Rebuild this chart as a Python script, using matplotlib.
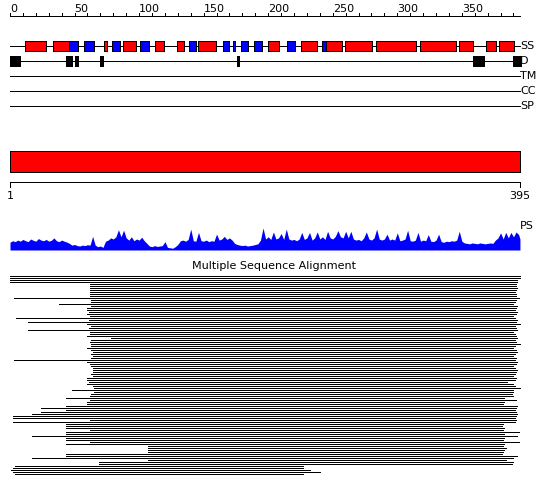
import matplotlib
matplotlib.use('Agg')
import matplotlib.pyplot as plt
from matplotlib.patches import Rectangle

# ---------------- data ----------------
SEQ_LEN = 395
ruler_major = [0, 50, 100, 150, 200, 250, 300, 350]
ruler_minor = list(range(0, 391, 10))

ss_helix = [(11.9, 28.1), (33.5, 45.9), (73.0, 74.9), (87.8, 97.8), (112.5, 119.1),
            (129.4, 135.0), (145.9, 159.8), (200.1, 208.6), (225.6, 238.0),
            (244.8, 256.9), (259.7, 280.2), (283.7, 314.5), (317.8, 345.5),
            (348.0, 358.9), (368.5, 376.2), (378.5, 390.4)]
ss_strand = [(45.9, 52.9), (57.6, 64.8), (79.2, 85.0), (100.9, 107.4), (138.9, 143.8),
             (165.2, 169.4), (172.7, 174.5), (178.9, 184.4), (189.0, 195.0),
             (214.6, 220.5), (241.9, 244.8)]
disorder = [(0, 7.7), (43.4, 48.0), (50.3, 52.4), (69.7, 71.8), (175.8, 177.4),
            (358.9, 367.2), (389.9, 396.0)]
track_labels = ['SS', 'D', 'TM', 'CC', 'SP']
domain = (1, 395)

ps_pos = list(range(0, 395, 2)) + [395]
ps_vals = [0.35, 0.42, 0.38, 0.45, 0.40, 0.48, 0.42, 0.38, 0.50, 0.44, 0.40, 0.52,
           0.45, 0.42, 0.48, 0.40, 0.44, 0.55, 0.42, 0.38, 0.45, 0.40, 0.36, 0.30,
           0.22, 0.25, 0.20, 0.18, 0.22, 0.20, 0.24, 0.22,
           0.62, 0.22, 0.15, 0.18, 0.12,
           0.40, 0.45, 0.55, 0.50, 0.60, 0.92, 0.60, 0.90, 0.55,
           0.45, 0.60, 0.42, 0.50, 0.45, 0.58, 0.42, 0.30,
           0.18, 0.15, 0.20, 0.16, 0.18, 0.20, 0.38, 0.12, 0.10, 0.08, 0.15, 0.25,
           0.42, 0.45, 0.40, 0.48, 0.95, 0.42, 0.40, 0.80, 0.42, 0.40,
           0.45, 0.38, 0.42, 0.40, 0.72, 0.45, 0.50, 0.62, 0.48, 0.55, 0.45,
           0.30, 0.25, 0.22, 0.20, 0.22, 0.18, 0.20, 0.22, 0.25, 0.28,
           0.45, 1.00, 0.50, 0.60, 0.48, 0.82, 0.50, 0.55, 0.75, 0.48, 0.95, 0.50,
           0.45, 0.48, 0.42, 0.50, 0.80, 0.48, 0.55, 0.80, 0.45, 0.55, 0.82, 0.50,
           0.60, 0.48, 0.85, 0.55, 0.50, 0.62, 0.88, 0.60, 0.55, 0.85, 0.55, 0.85, 0.50,
           0.45, 0.48, 0.42, 0.55, 0.82, 0.50, 0.45, 0.55, 0.95, 0.50, 0.45,
           0.50, 0.72, 0.45, 0.50, 0.45, 0.78, 0.42, 0.45, 0.50, 0.90, 0.42,
           0.40, 0.45, 0.80, 0.40, 0.45, 0.42, 0.70, 0.40, 0.38, 0.45, 0.72, 0.38,
           0.35, 0.40, 0.38, 0.42, 0.40, 0.45, 0.85, 0.40,
           0.32, 0.30, 0.28, 0.32, 0.30, 0.28, 0.32, 0.30, 0.28, 0.30, 0.32, 0.30,
           0.45, 0.55, 0.78, 0.50, 0.80, 0.55, 0.80, 0.60, 0.82, 0.70, 0.50]

msa_starts = [1, 1, 1, 1, 63, 63, 63, 63, 63, 63,
              63, 4, 64, 64, 39, 64, 61, 61, 62, 61,
              63, 6, 62, 15, 61, 64, 62, 15, 63, 63,
              61, 79, 64, 63, 64, 64, 61, 64, 65, 64,
              65, 64, 4, 61, 63, 64, 65, 65, 65, 64,
              65, 61, 61, 62, 61, 65, 66, 49, 66, 64,
              63, 44, 63, 61, 61, 44, 25, 44, 25, 18,
              3, 3, 63, 3, 44, 44, 44, 63, 44, 44,
              18, 44, 44, 63, 44, 108, 108, 108, 108, 44,
              44, 18, 108, 70, 70, 5, 3, 2, 3, 5]
msa_ends = [395, 395, 393, 393, 392, 392, 393, 392, 391, 392,
            392, 394, 392, 391, 390, 393, 392, 391, 393, 392,
            390, 391, 393, 392, 395, 391, 392, 393, 390, 391,
            392, 393, 391, 392, 395, 391, 390, 392, 393, 391,
            390, 392, 391, 393, 392, 390, 391, 393, 392, 391,
            390, 392, 391, 385, 390, 391, 395, 390, 390, 389,
            390, 383, 392, 383, 382, 393, 392, 391, 392, 393,
            392, 391, 392, 391, 382, 381, 383, 382, 394, 383,
            393, 383, 382, 394, 383, 382, 384, 383, 382, 381,
            393, 390, 384, 390, 389, 227, 227, 232, 240, 227]

# ---------------- drawing ----------------
W, H = 550, 495
PX_PER_RES = 1.291
X0 = 10.0
fig = plt.figure(figsize=(W / 100, H / 100), dpi=100)
fig.patch.set_facecolor('white')

ax = fig.add_axes([0, 0, 1, 1])
xlim = (-X0 / PX_PER_RES, (W - X0) / PX_PER_RES)
ax.set_xlim(*xlim)
ax.set_ylim(H, 0)
ax.axis('off')

FS = 8
LW = 0.5
RED = '#ff0000'
BLUE = '#0000ff'
lkw = dict(color='black', lw=LW, antialiased=False)

# top ruler
ax.hlines(15.5, 0, SEQ_LEN, **lkw)
ax.vlines(ruler_minor, 12.5, 15.5, **lkw)
for v in ruler_major:
    ax.text(v, 12, str(v), ha='left', va='baseline', fontsize=FS)

# feature tracks
track_y = [45.5, 60.5, 75.5, 90.5, 105.5]
for name, y in zip(track_labels, track_y):
    ax.hlines(y, 0, SEQ_LEN, zorder=1, **lkw)
    ax.text(SEQ_LEN + 0.3, y + 0.5, name, ha='left', va='center', fontsize=FS)

def boxes(spans, y, half, color):
    for s, e in spans:
        ax.add_patch(Rectangle((s, y - half), e - s, 2 * half, facecolor=color,
                               edgecolor='black', lw=LW, antialiased=False,
                               joinstyle='miter', zorder=2))

boxes(ss_helix, track_y[0], 5, RED)
boxes(ss_strand, track_y[0], 5, BLUE)
boxes(disorder, track_y[1], 5, 'black')

# domain bar
ax.add_patch(Rectangle((domain[0] - 1, 150.5), domain[1] - domain[0] + 1, 21,
                       facecolor=RED, edgecolor='black', lw=LW, antialiased=False,
                       joinstyle='miter'))
ax.hlines(181.5, domain[0] - 1, domain[1], **lkw)
ax.vlines([domain[0] - 1, domain[1]], 181.5, 186.5, **lkw)
ax.text(domain[0] - 1, 191, str(domain[0]), ha='center', va='top', fontsize=FS)
ax.text(domain[1], 191, str(domain[1]), ha='center', va='top', fontsize=FS)

# PS profile
ax_ps = fig.add_axes([0, (H - 250) / H, 1, 22 / H])
ax_ps.set_xlim(*xlim)
ax_ps.set_ylim(0, 1)
ax_ps.axis('off')
ax_ps.fill_between(ps_pos, ps_vals, 0, color=BLUE, lw=0)
ax_ps.hlines(0.02, 0, SEQ_LEN + 4, color=BLUE, lw=LW, antialiased=False)
ax.text(SEQ_LEN + 0.3, 226, 'PS', ha='left', va='center', fontsize=FS)

# MSA
fig.text(274 / W, 1 - 266 / H, 'Multiple Sequence Alignment', ha='center', va='center',
         fontsize=FS)
for i, (s, e) in enumerate(zip(msa_starts, msa_ends)):
    ax.hlines(275.5 + 2 * i, s - 1, e, **lkw)

fig.savefig('out.png', dpi=100, facecolor='white')
